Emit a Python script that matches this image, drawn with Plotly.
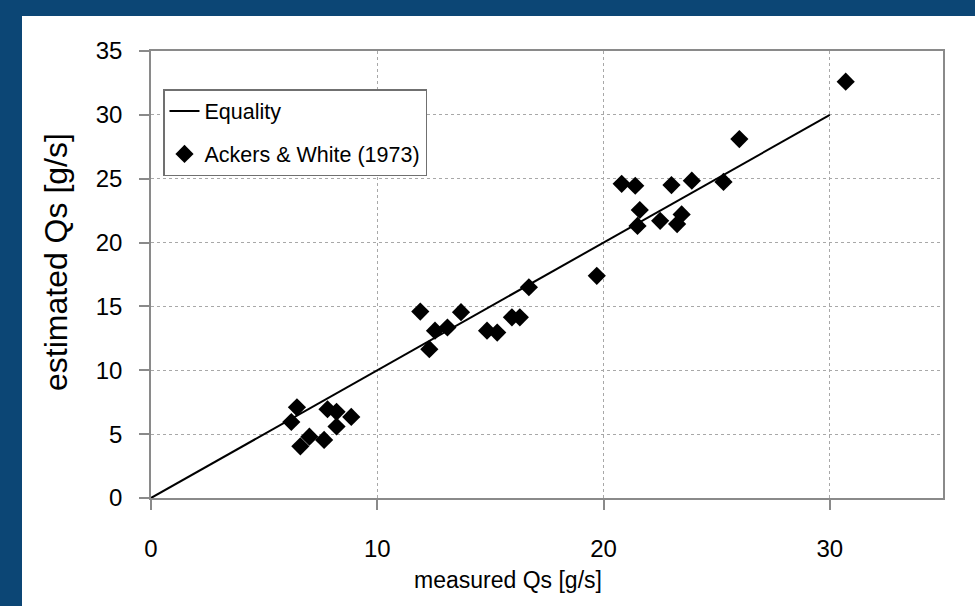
import plotly.graph_objects as go

measured = [30.7, 26.0, 25.3, 20.8, 21.4, 23.0, 23.9, 21.6, 21.5, 22.5, 23.45, 23.25, 19.7,
            16.7, 11.9, 13.7, 12.55, 13.1, 12.3, 14.85, 15.3, 15.95, 16.3,
            6.45, 6.2, 7.8, 8.2, 8.85, 8.2, 7.0, 6.6, 7.65]
estimated = [32.6, 28.1, 24.75, 24.6, 24.45, 24.5, 24.85, 22.55, 21.3, 21.7, 22.2, 21.45, 17.4,
             16.5, 14.6, 14.55, 13.1, 13.35, 11.65, 13.1, 12.95, 14.15, 14.15,
             7.1, 5.95, 6.95, 6.75, 6.35, 5.6, 4.8, 4.05, 4.55]
equality_x = [0, 30]
equality_y = [0, 30]
x_ticks = [0, 10, 20, 30]
y_ticks = [0, 5, 10, 15, 20, 25, 30, 35]

FONT = "Liberation Sans, Arial, sans-serif"
FS = 24
W, H = 975, 606
L, R, T, B = 151, 32, 51, 108
PW, PH = W - L - R, H - T - B

fig = go.Figure()
fig.add_trace(go.Scatter(x=equality_x, y=equality_y, mode="lines", name="Equality",
                         legendgroup="a", line=dict(color="black", width=2)))
fig.add_trace(go.Scatter(x=measured, y=estimated, mode="markers", name="Ackers & White (1973)",
                         legendgroup="b", marker=dict(symbol="diamond", size=14, color="black")))

def px_x(p):
    return (p - L) / PW

def px_y(p):
    return (H - B - p) / PH

blue = "#0c4675"
fig.add_shape(type="rect", xref="paper", yref="paper", x0=px_x(0), x1=px_x(W), y0=px_y(16), y1=px_y(0),
              fillcolor=blue, line_width=0, layer="below")
fig.add_shape(type="rect", xref="paper", yref="paper", x0=px_x(0), x1=px_x(22), y0=px_y(H), y1=px_y(0),
              fillcolor=blue, line_width=0, layer="below")

fig.add_annotation(text="measured Qs [g/s]", xref="paper", yref="paper", x=px_x(508), y=px_y(580),
                   xanchor="center", yanchor="middle",
                   showarrow=False, font=dict(family=FONT, size=23, color="black"))
fig.add_annotation(text="estimated Qs [g/s]", xref="paper", yref="paper", x=px_x(56), y=px_y(262),
                   xanchor="center", yanchor="middle",
                   showarrow=False, textangle=-90, font=dict(family=FONT, size=32, color="black"))

axis_common = dict(showline=True, linecolor="#8a8a8a", linewidth=1.5, mirror=True,
                   ticks="outside", ticklen=10, tickcolor="#8a8a8a", tickwidth=1.5,
                   gridcolor="#a8a8a8", griddash="dot", gridwidth=1, zeroline=False,
                   tickfont=dict(family=FONT, size=FS, color="black"))
fig.update_xaxes(range=[0, 35], tickvals=x_ticks, ticklabelstandoff=18, **axis_common)
fig.update_yaxes(range=[0, 35], tickvals=y_ticks, ticklabelstandoff=12, **axis_common)

fig.update_layout(width=W, height=H, margin=dict(l=L, r=R, t=T, b=B),
                  paper_bgcolor="white", plot_bgcolor="white",
                  font=dict(family=FONT, size=FS, color="black"),
                  legend=dict(x=px_x(163), y=px_y(89), xanchor="left", yanchor="top",
                              bgcolor="white", bordercolor="#707070", borderwidth=1.5,
                              font=dict(family=FONT, size=21.5, color="black"),
                              traceorder="grouped", tracegroupgap=12,
                              itemwidth=30))

fig.write_html("out.html", config={"displayModeBar": False},
               post_script="document.body.style.margin='0';document.body.style.padding='0';"
                           "document.body.style.overflow='hidden';")
